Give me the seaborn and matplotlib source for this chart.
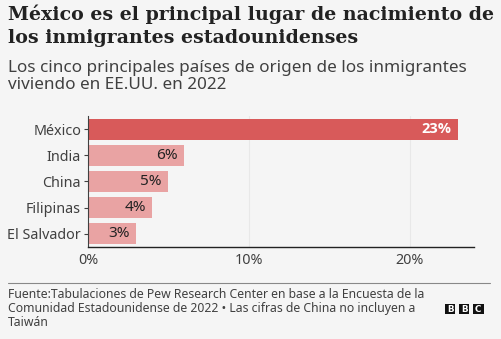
import matplotlib
matplotlib.use("Agg")
import matplotlib.pyplot as plt
import matplotlib.patches as mpatches
import seaborn as sns
import pandas as pd

countries = ["México", "India", "China", "Filipinas", "El Salvador"]
values = [23, 6, 5, 4, 3]
labels = ["23%", "6%", "5%", "4%", "3%"]
colors = ["#d85a5a", "#e9a3a3", "#e9a3a3", "#e9a3a3", "#e9a3a3"]
xticks = [0, 10, 20]
xticklabels = ["0%", "10%", "20%"]

bg = "#f5f5f5"
sns.set_theme(style="white")
plt.rcParams["font.family"] = ["Noto Sans", "DejaVu Sans"]

df = pd.DataFrame({"country": countries, "value": values})

fig = plt.figure(figsize=(5.02, 3.39), dpi=100, facecolor=bg)
ax = fig.add_axes([0.1753, 0.2714, 0.944 - 0.1753, 0.658 - 0.2714])
ax.set_facecolor(bg)

sns.barplot(data=df, x="value", y="country", hue="country", palette=colors,
            orient="h", width=0.8, legend=False, ax=ax, saturation=1,
            linewidth=0, edgecolor="none")

ax.set_axisbelow(True)
ax.xaxis.grid(True, color="#e8e8e8", lw=0.8)
ax.yaxis.grid(False)

ax.set_xlim(0, 24)
ax.set_ylim(4.5, -0.5)
ax.set_xticks(xticks)
ax.set_xticklabels(xticklabels, fontsize=10.3, color="#404040")
ax.tick_params(axis="x", length=0, pad=4)
ax.tick_params(axis="y", length=3, width=0.8, color="#404040", pad=2,
               labelsize=10.3, labelcolor="#404040", left=True)
ax.set_xlabel("")
ax.set_ylabel("")
for s in ["top", "right"]:
    ax.spines[s].set_visible(False)
ax.spines["left"].set_color("#404040")
ax.spines["left"].set_linewidth(0.8)
ax.spines["bottom"].set_color("#222222")
ax.spines["bottom"].set_linewidth(1.0)

for i, (v, lab) in enumerate(zip(values, labels)):
    if i == 0:
        ax.text(v - 0.4, i, lab, ha="right", va="center", fontsize=10.5,
                fontweight="bold", family="Open Sans", color="white", zorder=6)
    else:
        ax.text(v - 0.4, i, lab, ha="right", va="center", fontsize=11,
                color="#222222", zorder=6)

fig.text(8 / 502, 1 - 4 / 339,
         "México es el principal lugar de nacimiento de\nlos inmigrantes estadounidenses",
         ha="left", va="top", fontsize=13.7, fontweight="bold", family="DejaVu Serif",
         color="#222222", linespacing=1.38)
fig.text(8 / 502, 1 - 60 / 339,
         "Los cinco principales países de origen de los inmigrantes\nviviendo en EE.UU. en 2022",
         ha="left", va="top", fontsize=12.3, color="#404040", linespacing=1.1)

fig.add_artist(plt.Line2D([8 / 502, 490 / 502], [1 - 283 / 339, 1 - 283 / 339],
                          color="#888888", lw=0.8, transform=fig.transFigure))
fig.text(8 / 502, 1 - 288 / 339,
         "Fuente:Tabulaciones de Pew Research Center en base a la Encuesta de la\n"
         "Comunidad Estadounidense de 2022 • Las cifras de China no incluyen a\nTaiwán",
         ha="left", va="top", fontsize=8.8, color="#404040", linespacing=1.1)

for k, letter in enumerate("BBC"):
    x0 = 445 + k * 14
    fig.add_artist(mpatches.Rectangle((x0 / 502, 1 - 314 / 339), 10.5 / 502, 10.5 / 339,
                                      transform=fig.transFigure, fc="#111111", ec="none"))
    fig.text((x0 + 5.25) / 502, 1 - 309 / 339, letter, ha="center", va="center",
             fontsize=6.3, fontweight="bold", family="DejaVu Sans", color="white")

fig.savefig("out.png", dpi=100, facecolor=bg)
